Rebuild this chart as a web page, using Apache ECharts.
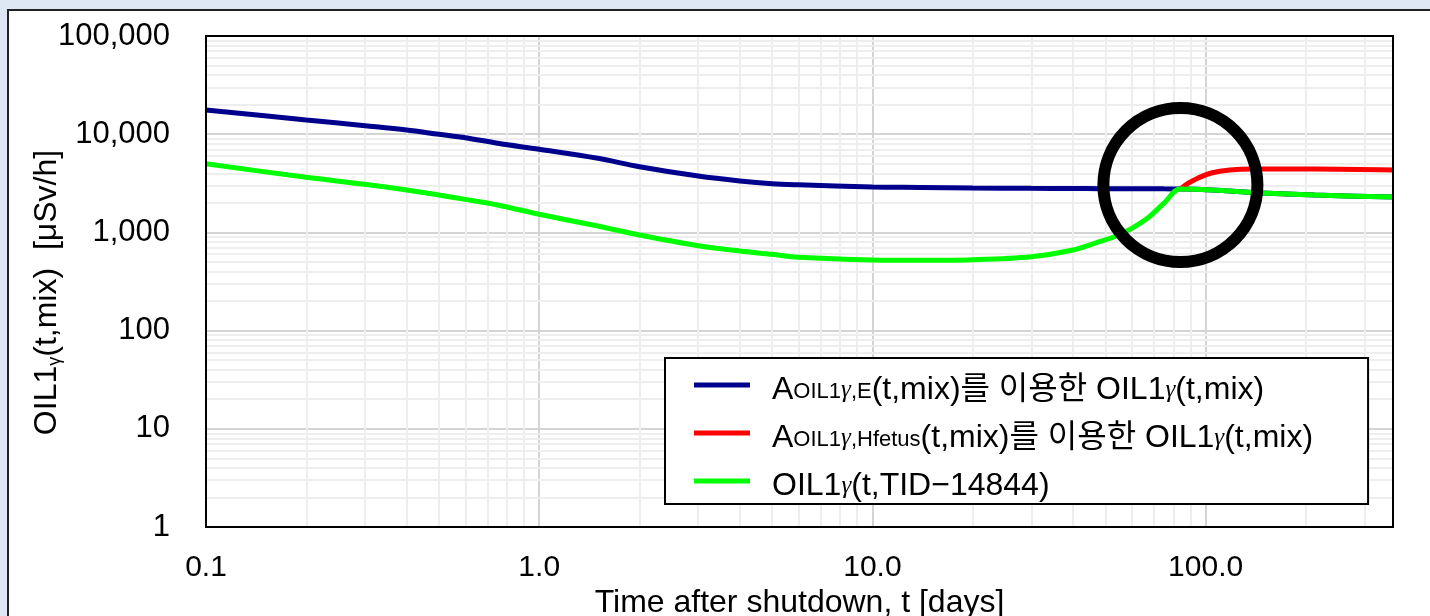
<!DOCTYPE html>
<html>
<head>
<meta charset="utf-8">
<script src="https://cdn.jsdelivr.net/npm/echarts@6/dist/echarts.min.js"></script>
<style>
  html, body { margin: 0; padding: 0; width: 1430px; height: 616px; overflow: hidden; background: #dde8f4; }
  #frame { position: absolute; left: 7px; top: 9px; width: 1500px; height: 700px; background: #fff;
           border-left: 2px solid #222; border-top: 2px solid #222; }
  #chart { position: absolute; left: 0; top: 0; width: 1430px; height: 616px; }
</style>
</head>
<body>
<div id="frame"></div>
<div id="chart"></div>
<script>
// ---- data ----
const tDays = [0.1, 0.2, 0.3, 0.4, 0.5, 0.6, 0.75, 1, 1.5, 2, 3, 4, 5, 6, 10, 14, 20, 30, 40, 48, 53, 60, 67, 75, 84, 104, 148, 213, 365];
const oilE = [17600, 13960, 12200, 11040, 9980, 9210, 8080, 7020, 5680, 4670, 3750, 3340, 3130, 3050, 2900, 2870, 2830, 2810, 2800, 2790, 2785, 2780, 2778, 2775, 2770, 2710, 2520, 2400, 2290];
const oilTID = [4990, 3640, 3090, 2700, 2400, 2170, 1900, 1530, 1160, 941, 732, 647, 598, 557, 524, 520, 527, 566, 662, 804, 898, 1100, 1400, 1990, 2770, 2710, 2520, 2400, 2290];
const tHfetus = [84, 89, 95, 104, 118, 138, 213, 365];
const oilHfetus = [2770, 3185, 3580, 4030, 4320, 4420, 4420, 4320];
const circlePoint = [84, 3040];
const xMin = 0.1, xMax = 365, yMin = 1, yMax = 100000;
const xMinor = [0.2,0.3,0.4,0.5,0.6,0.7,0.8,0.9, 2,3,4,5,6,7,8,9, 20,30,40,50,60,70,80,90, 200,300];
const yMinor = [];
[1, 10, 100, 1000, 10000].forEach(d => { for (let k = 2; k <= 9; k++) yMinor.push(k * d); });
const seriesNames = ['E', 'Hfetus', 'TID'];

const FONT = "'Liberation Sans', Arial, 'Noto Sans CJK KR', sans-serif";
const pairs = (xs, ys) => xs.map((x, i) => [x, ys[i]]);
const isDecade = v => Math.abs(Math.log10(v) - Math.round(Math.log10(v))) < 1e-6;

const legendText = {
  E: '{sp|}{m|A}{s|OIL1}{g|γ}{s|,E}{m|(t,mix)를 이용한 OIL1}{g|γ}{m|(t,mix)}',
  Hfetus: '{sp|}{m|A}{s|OIL1}{g|γ}{s|,Hfetus}{m|(t,mix)를 이용한 OIL1}{g|γ}{m|(t,mix)}',
  TID: '{sp|}{m|OIL1}{g|γ}{m|(t,TID−14844)}'
};

const chart = echarts.init(document.getElementById('chart'), null, { renderer: 'canvas' });
chart.setOption({
  animation: false,
  backgroundColor: 'transparent',
  grid: { left: 206, top: 36, width: 1187, height: 491, containLabel: false, outerBoundsMode: 'none' },
  xAxis: {
    type: 'log', logBase: 10, min: xMin, max: xMax,
    axisLine: { show: false }, axisTick: { show: false },
    splitLine: { show: true, lineStyle: { color: '#d4d4d4', width: 2 } },
    axisLabel: { fontFamily: FONT, fontSize: 30, color: '#000', margin: 26,
      formatter: v => isDecade(v) ? Number(v).toFixed(1) : '' },
    name: 'Time after shutdown, t [days]', nameLocation: 'middle', nameGap: 60, nameMoveOverlap: false,
    nameTextStyle: { fontFamily: FONT, fontSize: 32, color: '#000' }
  },
  yAxis: {
    type: 'log', logBase: 10, min: yMin, max: yMax,
    axisLine: { show: false }, axisTick: { show: false },
    splitLine: { show: true, lineStyle: { color: '#d4d4d4', width: 2 } },
    axisLabel: { fontFamily: FONT, fontSize: 31, color: '#000', margin: 36,
      formatter: v => isDecade(v) ? Math.round(v).toLocaleString('en-US') : '' },
    name: '{m|OIL1}{g|γ}{m|(t,mix)  [μSv/h]}', nameLocation: 'middle', nameGap: 142, nameRotate: 90,
    nameMoveOverlap: false,
    nameTextStyle: { color: '#000', padding: [0, 22, 0, 0],
      rich: {
        m: { fontFamily: FONT, fontSize: 32, color: '#000', lineHeight: 34 },
        g: { fontFamily: FONT, fontSize: 18, color: '#000', lineHeight: 18, verticalAlign: 'bottom' }
      } }
  },
  legend: {
    data: seriesNames,
    orient: 'vertical', left: 665, top: 358,
    padding: [6, 55, 2, 29],
    itemGap: 6, itemWidth: 56, itemHeight: 5, icon: 'rect',
    backgroundColor: '#fff', borderColor: '#000', borderWidth: 2, borderRadius: 0,
    selectedMode: false,
    formatter: n => legendText[n],
    textStyle: {
      color: '#000',
      rich: {
        sp: { width: 17 },
        m: { fontFamily: FONT, fontSize: 32, color: '#000', lineHeight: 36, padding: [10, 0, 0, 0] },
        s: { fontFamily: FONT, fontSize: 22, color: '#000', lineHeight: 8, verticalAlign: 'bottom' },
        g: { fontFamily: "'Liberation Serif', serif", fontStyle: 'italic', fontSize: 25, color: '#000', lineHeight: 8, verticalAlign: 'bottom' }
      }
    }
  },
  graphic: [{
    type: 'rect', silent: true, z: 100,
    shape: { x: 206, y: 36, width: 1187, height: 491 },
    style: { fill: null, stroke: '#000', lineWidth: 2 }
  }],
  series: [
    {
      name: 'gridMinor', type: 'line', data: [], silent: true,
      markLine: {
        silent: true, z: 1, symbol: ['none', 'none'], animation: false,
        label: { show: false },
        lineStyle: { color: '#eeeeee', width: 2, type: 'solid' },
        emphasis: { disabled: true },
        data: xMinor.map(v => ({ xAxis: v })).concat(yMinor.map(v => ({ yAxis: v })))
      }
    },
    { name: 'E', type: 'line', data: pairs(tDays, oilE), showSymbol: false, smooth: 0.35,
      lineStyle: { color: '#00008c', width: 5 }, itemStyle: { color: '#00008c' }, z: 2 },
    { name: 'Hfetus', type: 'line', data: pairs(tHfetus, oilHfetus), showSymbol: false, smooth: 0.35,
      lineStyle: { color: '#ff0000', width: 5 }, itemStyle: { color: '#ff0000' }, z: 2 },
    { name: 'TID', type: 'line', data: pairs(tDays, oilTID), showSymbol: false, smooth: 0.35,
      lineStyle: { color: '#00ff00', width: 5 }, itemStyle: { color: '#00ff00' }, z: 2 },
    { name: 'circle', type: 'scatter', data: [circlePoint], symbol: 'circle', symbolSize: 154, silent: true, z: 3,
      itemStyle: { color: 'rgba(0,0,0,0)', borderColor: '#000', borderWidth: 12, opacity: 1 } }
  ]
});
</script>
</body>
</html>
